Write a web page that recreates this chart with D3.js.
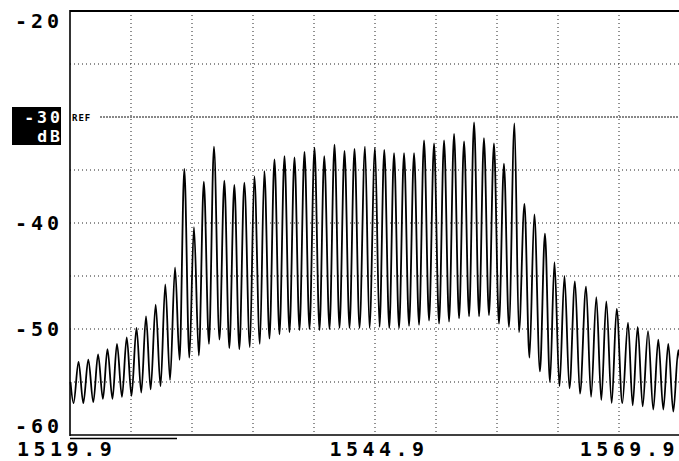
<!DOCTYPE html>
<html>
<head>
<meta charset="utf-8">
<script src="https://cdn.jsdelivr.net/npm/d3@7"></script>
<style>
  html, body { margin: 0; padding: 0; background: #fff; }
  svg { display: block; }
</style>
</head>
<body>
<div id="osa"><svg></svg></div>
<script>
// spectrum trace: alternating fringe peaks / troughs
const wavelength = [
  1519.94, 1520.19, 1520.60, 1520.99, 1521.40, 1521.81, 1522.20, 1522.60, 1522.97, 1523.38,
  1523.75, 1524.16, 1524.55, 1524.94, 1525.35, 1525.74, 1526.13, 1526.51, 1526.92, 1527.32,
  1527.71, 1528.10, 1528.51, 1528.88, 1529.27, 1529.68, 1530.06, 1530.46, 1530.87, 1531.29,
  1531.70, 1532.15, 1532.55, 1532.96, 1533.37, 1533.78, 1534.19, 1534.64, 1535.01, 1535.46,
  1535.83, 1536.25, 1536.66, 1537.07, 1537.48, 1537.89, 1538.30, 1538.71, 1539.12, 1539.53,
  1539.94, 1540.35, 1540.74, 1541.17, 1541.58, 1541.99, 1542.40, 1542.81, 1543.22, 1543.63,
  1544.08, 1544.45, 1544.90, 1545.27, 1545.66, 1546.07, 1546.46, 1546.87, 1547.28, 1547.69,
  1548.10, 1548.51, 1548.92, 1549.33, 1549.74, 1550.15, 1550.56, 1550.97, 1551.38, 1551.79,
  1552.20, 1552.61, 1553.02, 1553.43, 1553.83, 1554.24, 1554.65, 1555.06, 1555.47, 1555.88,
  1556.33, 1556.70, 1557.15, 1557.56, 1557.96, 1558.42, 1558.83, 1559.24, 1559.61, 1560.02,
  1560.43, 1560.84, 1561.29, 1561.70, 1562.20, 1562.61, 1563.04, 1563.45, 1563.86, 1564.30,
  1564.71, 1565.17, 1565.64, 1566.02, 1566.43, 1566.84, 1567.28, 1567.71, 1568.12, 1568.53,
  1568.94, 1569.35, 1569.76, 1569.90
];
const power = [
  -55.0, -57.0, -53.1, -57.0, -52.9, -56.9, -52.4, -56.6, -51.9, -56.6,
  -51.4, -56.4, -50.8, -56.3, -49.9, -56.0, -48.8, -55.7, -47.7, -55.4,
  -45.8, -54.8, -44.2, -52.9, -34.9, -52.7, -40.4, -52.5, -36.1, -51.4,
  -32.8, -51.0, -36.0, -51.8, -36.4, -51.9, -36.2, -51.7, -35.6, -51.4,
  -35.1, -50.9, -34.0, -50.5, -33.7, -50.3, -33.8, -50.1, -33.3, -50.0,
  -32.9, -50.1, -33.7, -50.0, -32.6, -49.9, -33.2, -49.9, -33.0, -49.9,
  -32.8, -49.9, -32.9, -49.8, -33.1, -49.9, -33.4, -49.9, -33.4, -49.7,
  -33.4, -49.6, -32.2, -49.2, -32.5, -49.5, -32.2, -49.3, -31.6, -49.0,
  -32.3, -48.8, -30.5, -48.8, -32.0, -48.7, -32.5, -49.5, -34.4, -49.8,
  -30.6, -50.3, -38.2, -52.7, -39.2, -54.0, -41.0, -55.0, -43.7, -55.4,
  -45.0, -55.6, -45.5, -56.1, -46.0, -56.4, -47.0, -56.7, -47.4, -57.0,
  -48.1, -57.0, -49.4, -57.2, -49.8, -57.3, -50.2, -57.6, -51.0, -57.6,
  -51.4, -57.8, -52.0, -53.0
];

const xTicks = [1519.9, 1544.9, 1569.9];
const yTicks = [-20, -40, -50, -60];
const refLevel = -30;

const width = 679;
const height = 461;
const margin = { top: 11, right: -1, bottom: 26, left: 70 };

const svg = d3.select("#osa svg")
  .attr("width", width)
  .attr("height", height);

const x = d3.scaleLinear()
  .domain([1519.9, 1569.9])
  .range([margin.left, width - margin.right]);

const y = d3.scaleLinear()
  .domain([-60, -20])
  .range([height - margin.bottom, margin.top]);

const monoFont = "'DejaVu Sans Mono', 'Liberation Mono', monospace";

// dotted graticule, 10 x 8 divisions
const vGrid = d3.range(1, 10).map(i => 1519.9 + i * 5);
const hGrid = d3.range(-55, -20, 5).filter(v => v !== refLevel);

svg.append("g")
  .selectAll("line")
  .data(vGrid)
  .enter()
  .append("line")
  .attr("x1", d => x(d))
  .attr("x2", d => x(d))
  .attr("y1", y(-20))
  .attr("y2", y(-60))
  .attr("stroke", "#222")
  .attr("stroke-width", 1)
  .attr("stroke-dasharray", "1,3");

svg.append("g")
  .selectAll("line")
  .data(hGrid)
  .enter()
  .append("line")
  .attr("x1", x(1519.9))
  .attr("x2", width)
  .attr("y1", d => y(d))
  .attr("y2", d => y(d))
  .attr("stroke", "#222")
  .attr("stroke-width", 1)
  .attr("stroke-dasharray", "1,3");

// reference level line
svg.append("line")
  .attr("x1", 100)
  .attr("x2", width)
  .attr("y1", y(refLevel))
  .attr("y2", y(refLevel))
  .attr("stroke", "#111")
  .attr("stroke-width", 1)
  .attr("stroke-dasharray", "2,1");

svg.append("text")
  .attr("x", 72)
  .attr("y", y(refLevel) + 3.5)
  .attr("font-family", monoFont)
  .attr("font-weight", "bold")
  .attr("font-size", "9px")
  .attr("letter-spacing", "1px")
  .text("REF");

// frame
svg.append("line")
  .attr("x1", x(1519.9)).attr("x2", width)
  .attr("y1", y(-20)).attr("y2", y(-20))
  .attr("stroke", "#000").attr("stroke-width", 2);

svg.append("line")
  .attr("x1", x(1519.9)).attr("x2", x(1519.9))
  .attr("y1", y(-20) - 1).attr("y2", y(-60) + 1)
  .attr("stroke", "#000").attr("stroke-width", 1.6);

svg.append("line")
  .attr("x1", x(1519.9)).attr("x2", width)
  .attr("y1", y(-60)).attr("y2", y(-60))
  .attr("stroke", "#000").attr("stroke-width", 1.6);

// span marker under the bottom edge
svg.append("line")
  .attr("x1", x(1519.9)).attr("x2", 177)
  .attr("y1", y(-60) + 3.5).attr("y2", y(-60) + 3.5)
  .attr("stroke", "#000").attr("stroke-width", 1.5);

// the trace
const trace = d3.line()
  .x((d, i) => x(wavelength[i]))
  .y(d => y(d))
  .curve(d3.curveMonotoneX);

svg.append("path")
  .datum(power)
  .attr("fill", "none")
  .attr("stroke", "#000")
  .attr("stroke-width", 1.8)
  .attr("stroke-linejoin", "round")
  .attr("d", trace);

// y labels
svg.append("g")
  .selectAll("text")
  .data(yTicks)
  .enter()
  .append("text")
  .attr("x", 63)
  .attr("y", d => Math.max(28, Math.min(433, y(d) + 7)))
  .attr("text-anchor", "end")
  .attr("font-family", monoFont)
  .attr("font-weight", "bold")
  .attr("font-size", "20px")
  .attr("letter-spacing", "4px")
  .text(d => d);

// reference level box
svg.append("rect")
  .attr("x", 12)
  .attr("y", 107)
  .attr("width", 49)
  .attr("height", 38)
  .attr("fill", "#000");

svg.append("text")
  .attr("x", 63)
  .attr("y", 123)
  .attr("text-anchor", "end")
  .attr("font-family", monoFont)
  .attr("font-weight", "bold")
  .attr("font-size", "16.5px")
  .attr("letter-spacing", "3px")
  .attr("fill", "#fff")
  .text(refLevel);

svg.append("text")
  .attr("x", 63)
  .attr("y", 142)
  .attr("text-anchor", "end")
  .attr("font-family", monoFont)
  .attr("font-weight", "bold")
  .attr("font-size", "16.5px")
  .attr("letter-spacing", "3px")
  .attr("fill", "#fff")
  .text("dB");

// x labels
svg.append("g")
  .selectAll("text")
  .data(xTicks)
  .enter()
  .append("text")
  .attr("x", (d, i) => i === 0 ? 17 : (i === 2 ? 679 : x(d) + 4))
  .attr("y", 456)
  .attr("text-anchor", (d, i) => i === 0 ? "start" : (i === 2 ? "end" : "middle"))
  .attr("font-family", monoFont)
  .attr("font-weight", "bold")
  .attr("font-size", "20px")
  .attr("letter-spacing", "4.5px")
  .text(d => d.toFixed(1));
</script>
</body>
</html>
